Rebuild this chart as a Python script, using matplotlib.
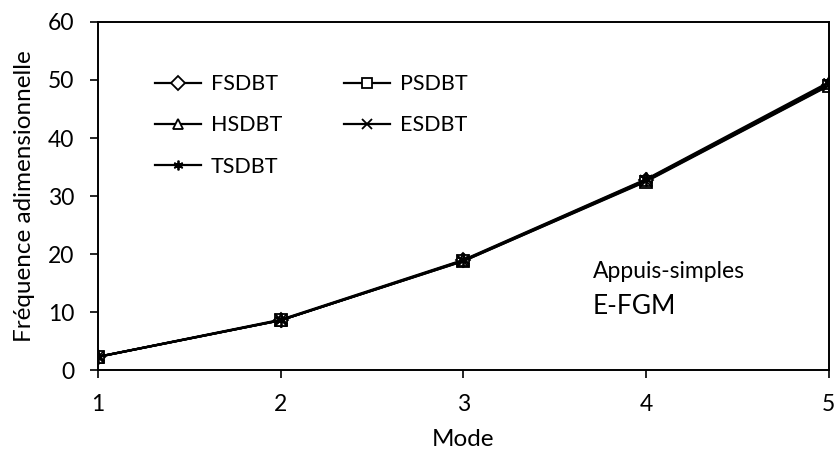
import matplotlib
matplotlib.use("Agg")
import matplotlib.pyplot as plt

plt.rcParams['font.family'] = ['Lato', 'DejaVu Sans']

modes = [1, 2, 3, 4, 5]
fsdbt = [2.3, 8.6, 18.9, 32.7, 49.2]
psdbt = [2.3, 8.6, 18.8, 32.5, 49.0]
hsdbt = [2.3, 8.6, 18.9, 32.8, 49.4]
esdbt = [2.3, 8.6, 18.8, 32.6, 49.1]
tsdbt = [2.3, 8.7, 19.0, 32.9, 49.6]

series = [
    ("FSDBT", fsdbt, "D", 7),
    ("PSDBT", psdbt, "s", 9),
    ("HSDBT", hsdbt, "^", 9),
    ("ESDBT", esdbt, "x", 9),
    ("TSDBT", tsdbt, (6, 2, 0), 10),
]

fig = plt.figure(figsize=(8.38, 4.57), dpi=100)
ax = fig.add_axes([0.117, 0.190, 0.872, 0.762])

lines = {}
for name, vals, mk, ms in series:
    ln, = ax.plot(modes, vals, color="black", lw=1.6, marker=mk, markersize=ms,
                  markerfacecolor="white", markeredgecolor="black",
                  markeredgewidth=1.3, label=name)
    lines[name] = ln

ax.set_xlim(1, 5)
ax.set_ylim(0, 60)
ax.set_xticks(modes)
ax.set_yticks(range(0, 61, 10))
ax.tick_params(direction="out", length=6, width=1.2, labelsize=16.5, pad=11)
for sp in ax.spines.values():
    sp.set_linewidth(1.4)

ax.set_xlabel("Mode", fontsize=17.5, labelpad=10)
ax.set_ylabel("Fréquence adimensionnelle", fontsize=17.5, labelpad=9)

# row-wise legend order: F P / H E / T
order = ["FSDBT", "HSDBT", "TSDBT", "PSDBT", "ESDBT"]
leg = ax.legend([lines[n] for n in order], order, loc="upper left", ncol=2,
                frameon=False, fontsize=15.5, bbox_to_anchor=(0.052, 0.905),
                handlelength=2.1, columnspacing=2.9, labelspacing=0.98,
                handletextpad=0.47)
for h in leg.legend_handles:
    h.set_markersize(7)

ax.text(0.677, 0.265, "Appuis-simples", transform=ax.transAxes, fontsize=16.5)
ax.text(0.677, 0.161, "E-FGM", transform=ax.transAxes, fontsize=19)

fig.savefig("out.png", dpi=100)
